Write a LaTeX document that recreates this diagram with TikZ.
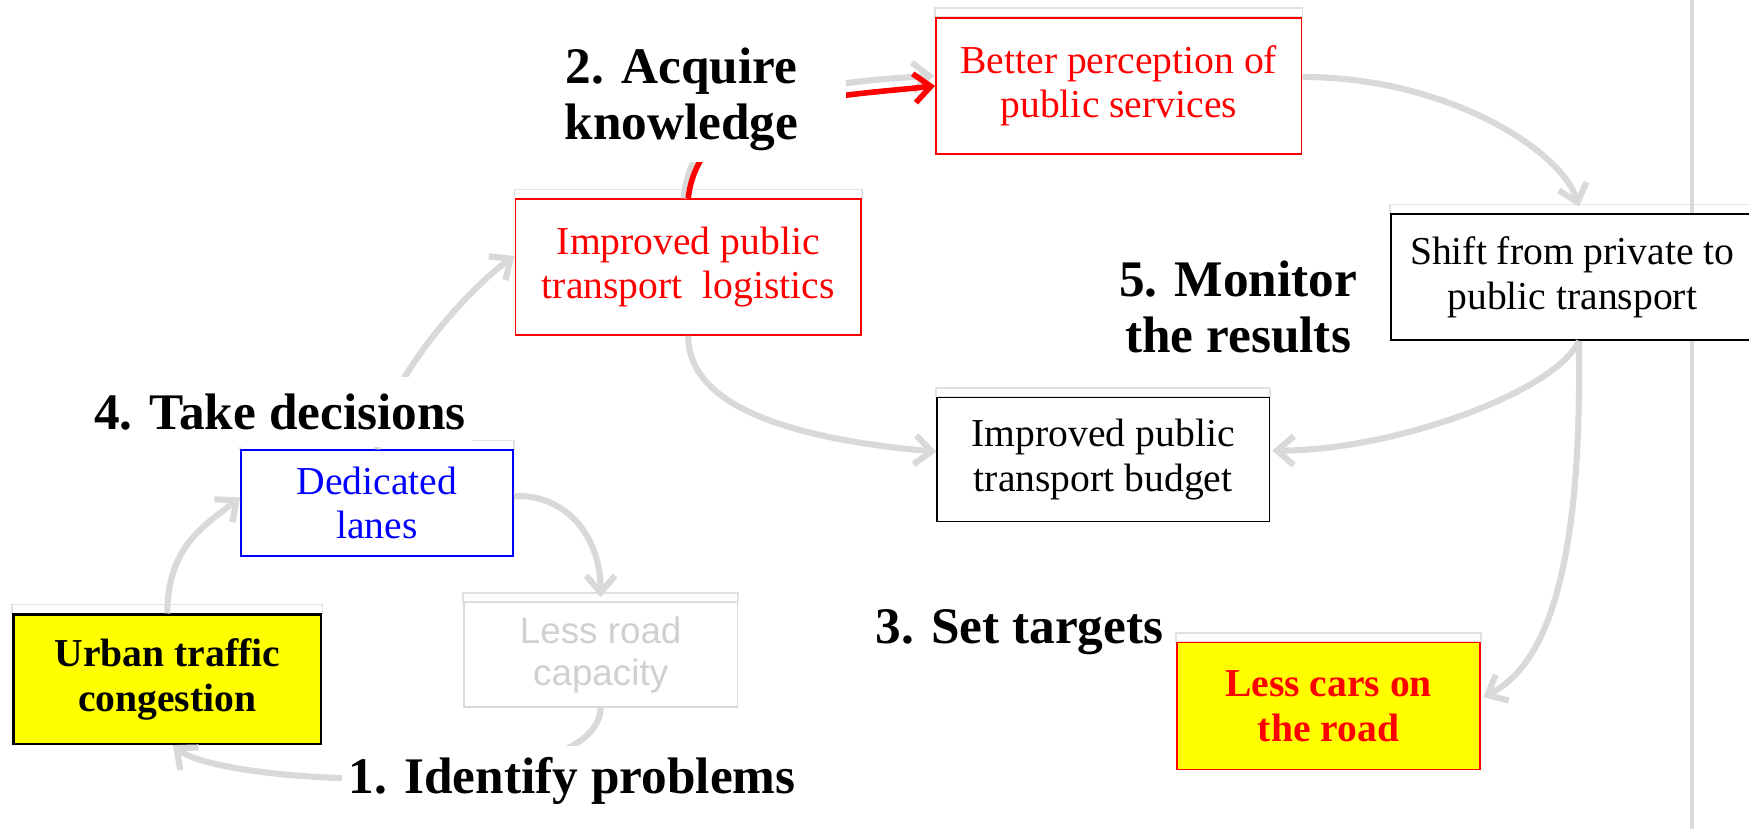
\documentclass[tikz,border=0pt]{standalone}
\usepackage{fontspec}
\setmainfont{Liberation Serif}
\newfontfamily\arialfont{Liberation Sans}
\usetikzlibrary{arrows.meta,calc,backgrounds}
\definecolor{arrgray}{HTML}{D9D9D9}
\definecolor{boxred}{HTML}{FF0000}
\definecolor{boxblue}{HTML}{0000FF}
\definecolor{hlyellow}{HTML}{FFFF00}
\definecolor{fadegray}{HTML}{D0D0D0}
\begin{document}
\begin{tikzpicture}[x=1pt,y=-1pt,
  box/.style={draw, line width=1.3pt, fill=white, align=center, inner sep=0pt,
    font=\fontsize{35.5}{40}\selectfont},
  flow/.style={draw=arrgray, line width=5.5pt, -{Straight Barb[length=15pt,width=26pt]}},
  redflow/.style={draw=boxred, line width=5pt, -{Straight Barb[length=15pt,width=26pt]}},
  stage/.style={fill=white, inner sep=0pt, align=center,
    font=\bfseries\fontsize{46}{50}\selectfont},
  topline/.style={draw=arrgray!80, line width=1.5pt}
]
\useasboundingbox (0,0) rectangle (1568,743);

% boxes
\node[box, draw=black, line width=2pt, fill=hlyellow, minimum width=276pt, minimum height=116pt,
  font=\bfseries\fontsize{35.5}{40}\selectfont] (urban) at (150,609) {Urban traffic\\congestion};
\node[box, draw=boxblue, text=boxblue, minimum width=244pt, minimum height=95pt] (dedicated) at (338,451) {Dedicated\\lanes};
\node[box, draw=arrgray, text=fadegray, minimum width=245pt, minimum height=94pt,
  font=\arialfont\fontsize{33}{38}\selectfont] (lessroad) at (538.5,587) {Less road\\capacity};
\node[box, draw=boxred, text=boxred, minimum width=310pt, minimum height=122pt] (logistics) at (617,239.5) {Improved public\\transport~ logistics};
\node[box, draw=boxred, text=boxred, minimum width=328pt, minimum height=122pt] (perception) at (1003,77) {Better perception of\\public services};
\node[box, minimum width=325pt, minimum height=113pt] (shift) at (1409.5,248.5) {Shift from private to\\public transport};
\node[box, minimum width=298pt, minimum height=111pt] (budget) at (989,412) {Improved public\\transport budget};
\node[box, draw=boxred, text=boxred, fill=hlyellow, minimum width=272pt, minimum height=114pt,
  font=\bfseries\fontsize{35.5}{40}\selectfont] (lesscars) at (1191,633) {Less cars on\\the road};

% background decorations
\begin{scope}[on background layer]
  \foreach \b in {urban,dedicated,lessroad,logistics,perception,shift,budget,lesscars}
    \draw[topline] ($(\b.north west)+(0,-8)$) rectangle (\b.north east);
  \coordinate (vtop) at (1517,0);
  \coordinate (vbot) at (1517,743);
  \draw[arrgray, line width=3pt] (vtop) -- (vbot);
\end{scope}

% gray flows
\draw[flow] (urban.north) .. controls +(0,-60) and +(-32,25) .. ($(dedicated.west)+(0,-5)$);
\draw[flow] (dedicated.north) .. controls +(5,-60) and +(-40,28) .. ($(logistics.west)+(0,-10)$);
\draw[flow] (logistics.south) .. controls +(0,70) and +(-110,-10) .. ($(budget.west)+(0,-7)$);
\draw[flow] ($(logistics.north)+(-4,0)$) .. controls +(8,-95) and +(-90,5) .. ($(perception.west)+(-1,-9)$);
\draw[flow] ($(perception.east)+(0,-8)$) .. controls +(130,0) and +(-15,-50) .. ($(shift.north)+(6,-6)$);
\draw[flow] ($(shift.south)+(6,0)$) .. controls +(-20,45) and +(110,0) .. ($(budget.east)+(2,-8)$);
\draw[flow] ($(shift.south)+(6,0)$) .. controls +(3,195) and +(60,-30) .. ($(lesscars.east)+(2,-8)$);
\draw[flow] ($(dedicated.east)+(0,-6)$) .. controls +(44,-3) and +(0,-57) .. ($(lessroad.north)+(0,-4)$);
\draw[flow] (lessroad.south) .. controls +(-3,85) and +(45,37) .. ($(urban.south)+(5,0)$);

% red flow
\draw[redflow] (logistics.north) .. controls +(10,-90) and +(-90,10) .. (perception.west);

% stage labels
\node[stage, anchor=base, minimum width=412pt, minimum height=62pt] (s1) at (513,711) {1. Identify problems};
\node[stage, minimum width=294pt, minimum height=112pt] (s2) at (611,89) {2. Acquire\\knowledge};
\node[stage, anchor=base] (s3) at (914,577) {3. Set targets};
\node[stage, anchor=base, minimum width=345pt, minimum height=63pt] (s4) at (251,385) {4. Take decisions};
\node[stage] (s5) at (1110,275) {5. Monitor\\the results};
\end{tikzpicture}
\end{document}
